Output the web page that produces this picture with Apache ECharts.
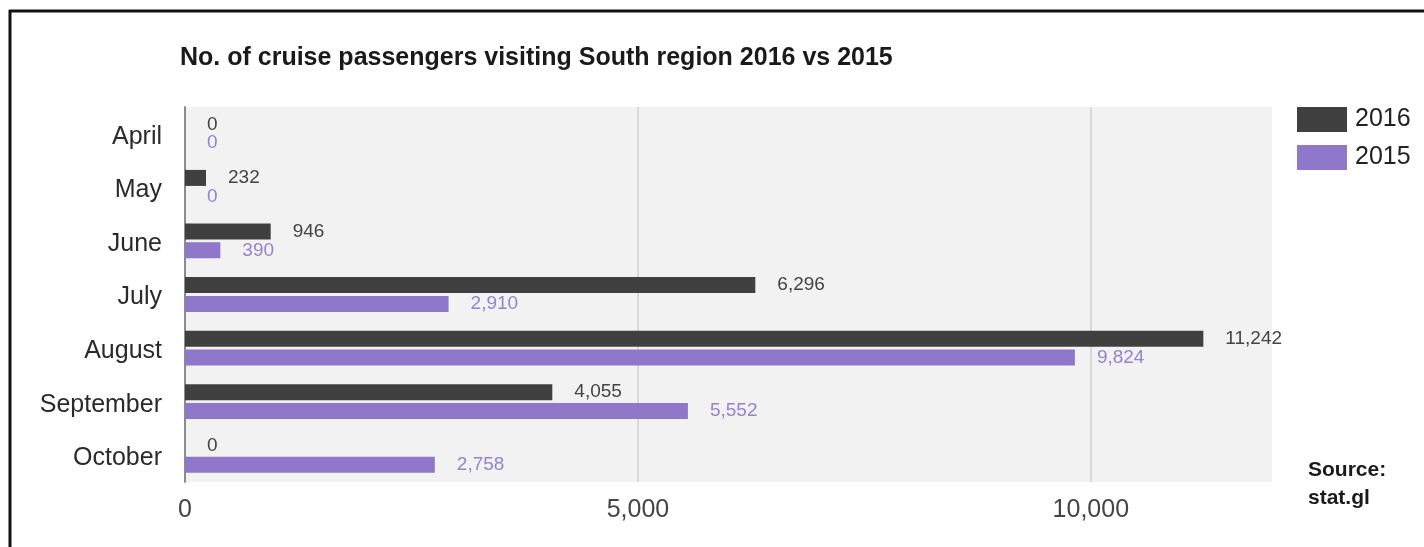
<!DOCTYPE html>
<html>
<head>
<meta charset="utf-8">
<script src="https://cdn.jsdelivr.net/npm/echarts@6/dist/echarts.min.js"></script>
<style>
  html, body { margin: 0; padding: 0; background: #fff; }
  #chart { width: 1424px; height: 547px; }
</style>
</head>
<body>
<div id="chart"></div>
<script>
// Monthly cruise passengers, South region
const months = ['April', 'May', 'June', 'July', 'August', 'September', 'October'];
const passengers2016 = [0, 232, 946, 6296, 11242, 4055, 0];
const passengers2015 = [0, 0, 390, 2910, 9824, 5552, 2758];
const xTicks = [0, 5000, 10000];

const FONT = "'Liberation Sans', Arial, Helvetica, sans-serif";
const DARK = '#404040';
const PURPLE = '#8f77c9';

const fmt = v => Number(v).toLocaleString('en-US');

const chart = echarts.init(document.getElementById('chart'), null, { renderer: 'canvas' });

chart.setOption({
  backgroundColor: '#ffffff',
  animation: false,
  title: {
    text: 'No. of cruise passengers visiting South region 2016 vs 2015',
    left: 180,
    top: 46,
    padding: 0,
    textStyle: { fontFamily: FONT, fontSize: 25, fontWeight: 'bold', color: '#1a1a1a' }
  },
  legend: {
    orient: 'vertical',
    left: 1297,
    top: 107,
    padding: 0,
    itemWidth: 50,
    itemHeight: 25,
    itemGap: 13,
    icon: 'rect',
    textStyle: { fontFamily: FONT, fontSize: 25, color: '#222', padding: [0, 0, 0, 3] },
    data: ['2016', '2015']
  },
  grid: {
    left: 185,
    right: 152,
    top: 107,
    bottom: 65,
    show: true,
    backgroundColor: '#f2f2f2',
    borderWidth: 0,
    containLabel: false
  },
  xAxis: {
    type: 'value',
    min: 0,
    max: 12000,
    interval: 5000,
    axisLine: { show: false },
    axisTick: { show: false },
    splitLine: { show: true, showMaxLine: false, lineStyle: { color: '#d9d9d9', width: 2 } },
    axisLabel: {
      margin: 16,
      fontFamily: FONT,
      fontSize: 25,
      color: '#444',
      showMaxLabel: false,
      formatter: v => (xTicks.includes(v) ? fmt(v) : '')
    }
  },
  yAxis: {
    type: 'category',
    inverse: true,
    data: months,
    axisLine: { show: true, lineStyle: { color: '#8c8c8c', width: 2 } },
    axisTick: { show: false },
    axisLabel: {
      margin: 23,
      formatter: v => '{m|' + v + '}',
      rich: {
        m: { fontFamily: FONT, fontSize: 25, color: '#2a2a2a', padding: [6, 0, 0, 0] }
      }
    }
  },
  series: [
    {
      name: '2016',
      type: 'bar',
      data: passengers2016,
      barWidth: 16,
      barGap: '18%',
      itemStyle: { color: DARK },
      label: {
        show: true,
        position: 'right',
        distance: 22,
        fontFamily: FONT,
        fontSize: 19,
        color: '#444',
        formatter: p => fmt(p.value)
      }
    },
    {
      name: '2015',
      type: 'bar',
      data: passengers2015,
      barWidth: 16,
      itemStyle: { color: PURPLE },
      label: {
        show: true,
        position: 'right',
        distance: 22,
        fontFamily: FONT,
        fontSize: 19,
        color: '#9582cf',
        formatter: p => fmt(p.value)
      }
    }
  ],
  graphic: [
    // frame lines along the top and left edge
    { type: 'line', shape: { x1: 9, y1: 11, x2: 1424, y2: 11 }, style: { stroke: '#111', lineWidth: 3 }, silent: true },
    { type: 'line', shape: { x1: 10, y1: 10, x2: 10, y2: 547 }, style: { stroke: '#111', lineWidth: 3 }, silent: true },
    {
      type: 'text',
      left: 1308,
      top: 456,
      style: {
        text: 'Source:\nstat.gl',
        fontFamily: FONT,
        fontSize: 21,
        fontWeight: 'bold',
        lineHeight: 28,
        fill: '#1a1a1a'
      }
    }
  ]
});
</script>
</body>
</html>
